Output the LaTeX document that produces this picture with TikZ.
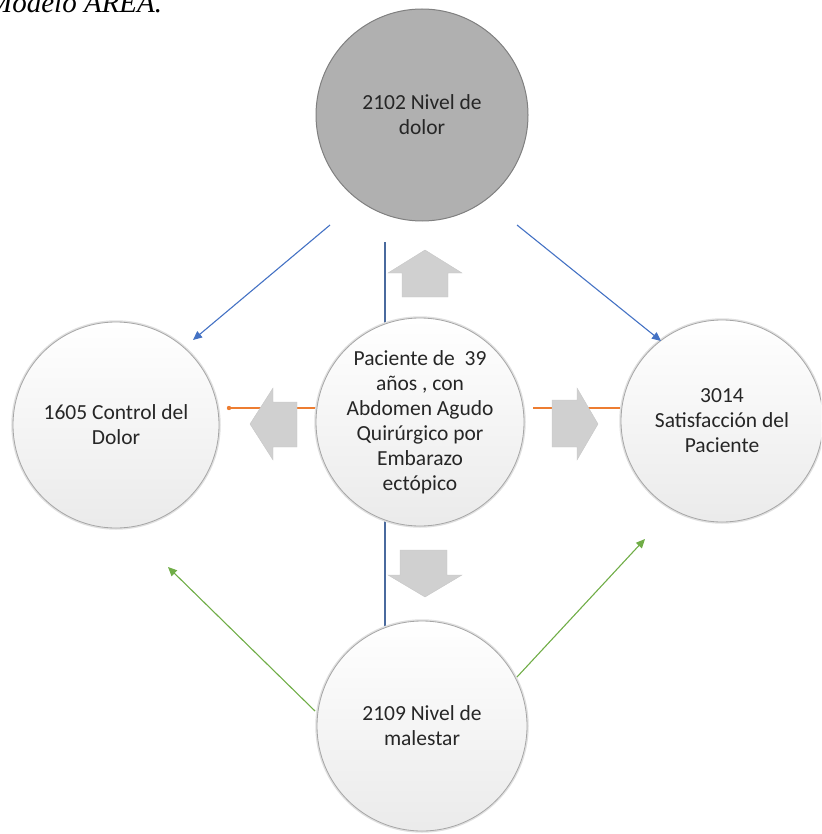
\documentclass[tikz,border=0pt]{standalone}
\usepackage{fontspec}
\setmainfont{Carlito}
\newfontfamily\titlefont{Liberation Serif}
\usetikzlibrary{arrows.meta}
\definecolor{cblue}{HTML}{4472C4}
\definecolor{cgreen}{HTML}{70AD47}
\definecolor{corange}{HTML}{ED7D31}
\definecolor{cvline}{HTML}{4A6A9E}
\definecolor{blockgray}{HTML}{D0D0D0}
\definecolor{topgray}{HTML}{B0B0B0}
\tikzset{
  x=1pt, y=-1pt,
  bubble/.style={circle, inner sep=0pt, minimum size=#1, align=center,
    font=\fontsize{21.5}{25}\selectfont, text=black!85,
    top color=white, bottom color=black!8, draw=black!35, line width=0.8pt,
    preaction={draw=black!12, line width=3.5pt}},
  topbubble/.style={circle, inner sep=0pt, minimum size=#1, align=center,
    font=\fontsize{21.5}{25}\selectfont, text=black!85,
    fill=topgray, draw=black!50, line width=1pt},
  blockarrow/.style={fill=blockgray, draw=black!22, line width=0.4pt},
  bluearrow/.style={draw=cblue, line width=1.1pt, -{Triangle[length=9pt,width=8pt]}},
  greenarrow/.style={draw=cgreen, line width=1.1pt, -{Triangle[length=9pt,width=8pt]}},
  orangeline/.style={draw=corange, line width=1.1pt},
}
\begin{document}
\begin{tikzpicture}
\useasboundingbox (0,0) rectangle (821,834);
\clip (0,0) rectangle (821,834);

% title (cut off at the top, as in the reference)
\node[anchor=base west, inner sep=0pt, font=\titlefont\itshape\fontsize{29}{32}\selectfont] (title) at (-12,13) {Modelo AREA.};

% free ends of connectors
\coordinate (b1s) at (330,225);
\coordinate (b1e) at (193,340);
\coordinate (b2s) at (517,225);
\coordinate (b2e) at (661,341);
\coordinate (g1s) at (315,711);
\coordinate (g1e) at (168,567);
\coordinate (g2s) at (517,677);
\coordinate (g2e) at (645,539);
\coordinate (o1s) at (320,408);
\coordinate (o1e) at (229,408);
\coordinate (o2s) at (533,408);
\coordinate (o2e) at (624,408);
\coordinate (v1) at (385,242);
\coordinate (v2) at (385,628);

% connectors that pass behind the circles
\draw[cvline, line width=1.1pt] (v1) -- (v2);
\draw[orangeline] (o1s) -- (o1e);
\fill[corange] (o1e) circle (2.2pt);
\draw[orangeline] (o2s) -- (o2e);

% block arrows
\draw[blockarrow] (425,250) -- (462,273) -- (448,273) -- (448,297) -- (402,297) -- (402,273) -- (388,273) -- cycle;
\draw[blockarrow] (400,550) -- (447,550) -- (447,575) -- (462,575) -- (425,597) -- (388,575) -- (400,575) -- cycle;
\draw[blockarrow] (250,424) -- (273,388) -- (273,402) -- (297,402) -- (297,447) -- (273,447) -- (273,460) -- cycle;
\draw[blockarrow] (552,400) -- (577,400) -- (577,388) -- (598,424) -- (577,460) -- (577,447) -- (552,447) -- cycle;

% circles
\node[topbubble=212pt] (top) at (422,115) {2102 Nivel de\\dolor};
\node[bubble=206pt] (left) at (116,425) {1605 Control del\\Dolor};
\node[bubble=202pt] (right) at (722,421) {3014\\Satisfacción del\\Paciente};
\node[bubble=208pt] (center) at (420,422) {Paciente de\ \ 39\\años , con\\Abdomen Agudo\\Quirúrgico por\\Embarazo\\ectópico};
\node[bubble=210pt] (bottom) at (422,726) {2109 Nivel de\\malestar};

% arrows drawn over the circles
\draw[bluearrow] (b1s) -- (b1e);
\draw[bluearrow] (b2s) -- (b2e);
\draw[greenarrow] (g1s) -- (g1e);
\draw[greenarrow] (g2s) -- (g2e);
\end{tikzpicture}
\end{document}
